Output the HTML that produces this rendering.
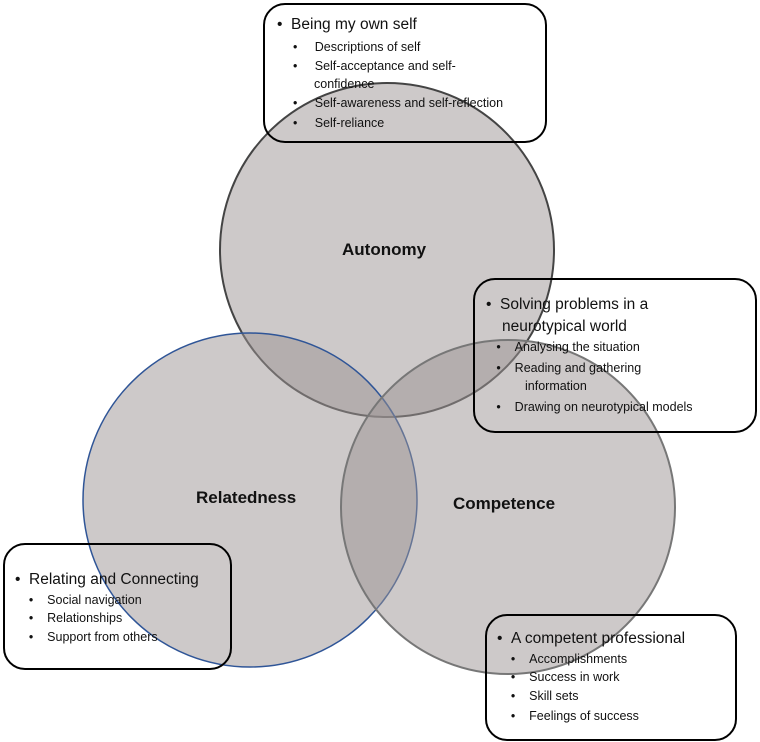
<!DOCTYPE html>
<html><head><meta charset="utf-8"><style>
body{margin:0;background:#fff;}
.wrap{position:relative;width:760px;height:742px;overflow:hidden;font-family:"Liberation Sans",sans-serif;color:#111;}
svg{position:absolute;left:0;top:0;}
.box{position:absolute;border:2.5px solid #000;border-radius:22px;box-sizing:border-box;}
.t{position:absolute;white-space:nowrap;}
.m{font-size:15.5px;}
.s{font-size:12.5px;}
.lbl{position:absolute;font-weight:bold;font-size:17px;}
</style></head><body><div class="wrap">
<svg width="760" height="742">
<g fill="#9c9494" fill-opacity="0.5">
<circle cx="387" cy="250" r="167" stroke="#444" stroke-width="2"/>
<circle cx="250" cy="500" r="167" stroke="#2f5597" stroke-width="1.5"/>
<circle cx="508" cy="507" r="167" stroke="#777" stroke-width="2"/>
</g>
</svg>
<div class="lbl" style="left:342px;top:240px">Autonomy</div>
<div class="lbl" style="left:196px;top:488px">Relatedness</div>
<div class="lbl" style="left:453px;top:494px">Competence</div>

<div class="box" style="left:263px;top:3px;width:284px;height:140px"></div>
<div class="t m" style="left:277px;top:16px">•&nbsp;&nbsp;Being my own self</div>
<div class="t s" style="left:293px;top:40px">•&nbsp;&nbsp;&nbsp;&nbsp;&nbsp;Descriptions of self</div>
<div class="t s" style="left:293px;top:59px">•&nbsp;&nbsp;&nbsp;&nbsp;&nbsp;Self-acceptance and self-</div>
<div class="t s" style="left:314px;top:77px">confidence</div>
<div class="t s" style="left:293px;top:96px">•&nbsp;&nbsp;&nbsp;&nbsp;&nbsp;Self-awareness and self-reflection</div>
<div class="t s" style="left:293px;top:116px">•&nbsp;&nbsp;&nbsp;&nbsp;&nbsp;Self-reliance</div>

<div class="box" style="left:473px;top:278px;width:284px;height:155px"></div>
<div class="t m" style="left:486px;top:296px">•&nbsp;&nbsp;Solving problems in a</div>
<div class="t m" style="left:502px;top:318px">neurotypical world</div>
<div class="t s" style="left:486px;top:340px">&nbsp;&nbsp;&nbsp;•&nbsp;&nbsp;&nbsp;&nbsp;Analysing the situation</div>
<div class="t s" style="left:486px;top:361px">&nbsp;&nbsp;&nbsp;•&nbsp;&nbsp;&nbsp;&nbsp;Reading and gathering</div>
<div class="t s" style="left:525px;top:379px">information</div>
<div class="t s" style="left:486px;top:400px">&nbsp;&nbsp;&nbsp;•&nbsp;&nbsp;&nbsp;&nbsp;Drawing on neurotypical models</div>

<div class="box" style="left:3px;top:543px;width:229px;height:127px"></div>
<div class="t m" style="left:15px;top:571px">•&nbsp;&nbsp;Relating and Connecting</div>
<div class="t s" style="left:15px;top:593px">&nbsp;&nbsp;&nbsp;&nbsp;•&nbsp;&nbsp;&nbsp;&nbsp;Social navigation</div>
<div class="t s" style="left:15px;top:611px">&nbsp;&nbsp;&nbsp;&nbsp;•&nbsp;&nbsp;&nbsp;&nbsp;Relationships</div>
<div class="t s" style="left:15px;top:630px">&nbsp;&nbsp;&nbsp;&nbsp;•&nbsp;&nbsp;&nbsp;&nbsp;Support from others</div>

<div class="box" style="left:485px;top:614px;width:252px;height:127px"></div>
<div class="t m" style="left:497px;top:630px">•&nbsp;&nbsp;A competent professional</div>
<div class="t s" style="left:497px;top:652px">&nbsp;&nbsp;&nbsp;&nbsp;•&nbsp;&nbsp;&nbsp;&nbsp;Accomplishments</div>
<div class="t s" style="left:497px;top:670px">&nbsp;&nbsp;&nbsp;&nbsp;•&nbsp;&nbsp;&nbsp;&nbsp;Success in work</div>
<div class="t s" style="left:497px;top:689px">&nbsp;&nbsp;&nbsp;&nbsp;•&nbsp;&nbsp;&nbsp;&nbsp;Skill sets</div>
<div class="t s" style="left:497px;top:709px">&nbsp;&nbsp;&nbsp;&nbsp;•&nbsp;&nbsp;&nbsp;&nbsp;Feelings of success</div>
</div></body></html>
